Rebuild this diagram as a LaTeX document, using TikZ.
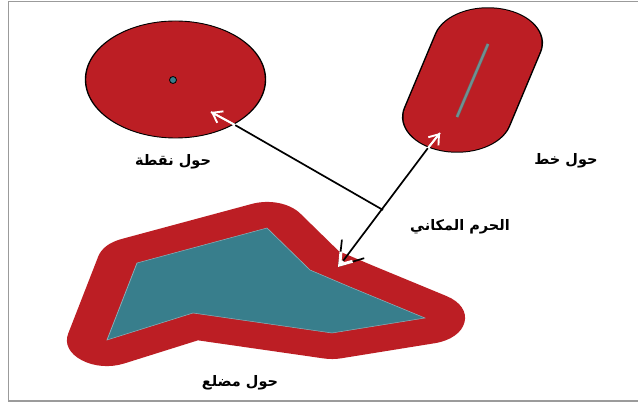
\documentclass[tikz,border=0pt]{standalone}
\usepackage{fontspec}
\newfontfamily\arabicfont[Script=Arabic]{DejaVu Sans}
\TeXXeTstate=1
\usetikzlibrary{arrows.meta}
\definecolor{bufred}{RGB}{188,30,36}
\definecolor{tealin}{RGB}{56,126,140}
\definecolor{lineteal}{RGB}{110,145,145}
\definecolor{framegray}{RGB}{155,155,155}
\begin{document}
\begin{tikzpicture}[x=1pt,y=-1pt,
  lbl/.style={font=\arabicfont\bfseries\fontsize{14.5}{16}\selectfont, inner sep=0pt},
  shaft/.style={line width=1.7pt},
  whiteshaft/.style={white, line width=1.8pt},
  whitetip/.style={white, line width=1.9pt, -{Straight Barb[length=9pt,width=13pt]}}]
\useasboundingbox (0,0) rectangle (638,403);
\fill[white] (0,0) rectangle (638,403);
\draw[framegray, line width=1.6pt] (638,1.5) -- (8.5,1.5) -- (8.5,401) -- (638,401);

% shapes, drawn in a horizontally stretched canvas
\begin{scope}[transform canvas={xscale=1.54}, x=0.649351pt]
  % polygon buffer
  \draw[bufred, fill=bufred, line width=52pt, line join=round]
    (137,263) -- (267,228) -- (310,270) -- (350,287) -- (425,318)
    -- (332,333) -- (193,313) -- (107,340) -- cycle;
  \draw[fill=tealin, draw=tealin!60!white, line width=0.5pt]
    (137,263) -- (267,228) -- (310,270) -- (350,287) -- (425,318)
    -- (332,333) -- (193,313) -- (107,340) -- cycle;
  % buffer around a point
  \draw[fill=bufred, line width=0.9pt] (175.5,79.5) ellipse [x radius=90, y radius=58.5];
  % buffer around a line
  \draw[line width=71.5pt, line cap=round] (488,43) -- (457,117);
  \draw[bufred, line width=69.5pt, line cap=round] (488,43) -- (457,117);
\end{scope}

% the point and the line
\draw[fill=tealin, line width=0.8pt] (173,80) circle[radius=3.5];
\draw[black!60, line width=3.2pt] (488,44) -- (457,117);
\draw[lineteal, line width=2.2pt] (488,44) -- (457,117);

% connectors
\coordinate (j) at (383,210);
\coordinate (cin) at (235,125);
\coordinate (ctip) at (211,112);
\coordinate (lin) at (428,148);
\coordinate (ltip) at (440,133);
\coordinate (pin) at (343,261);
\coordinate (ptip) at (338,267);

\draw[shaft] (j) -- (cin);
\draw[whiteshaft] (cin) -- (ctip);
\draw[whitetip] (cin) -- (ctip);

\draw[shaft] (lin) -- (pin);
\draw[whiteshaft] (lin) -- (ltip);
\draw[whitetip] (lin) -- (ltip);

\draw[shaft, -{Straight Barb[length=22pt,width=29pt]}] (pin) -- (ptip);
\draw[white, line width=3pt, -{Straight Barb[length=11pt,width=15pt]}] (pin) -- (ptip);

% labels
\node[lbl] (lp) at (173,162) {\beginR حول نقطة\endR};
\node[lbl] (ll) at (566,161) {\beginR حول خط\endR};
\node[lbl] (lz) at (460,227) {\beginR الحرم المكاني\endR};
\node[lbl] (lm) at (240,383) {\beginR حول مضلع\endR};
\end{tikzpicture}
\end{document}
